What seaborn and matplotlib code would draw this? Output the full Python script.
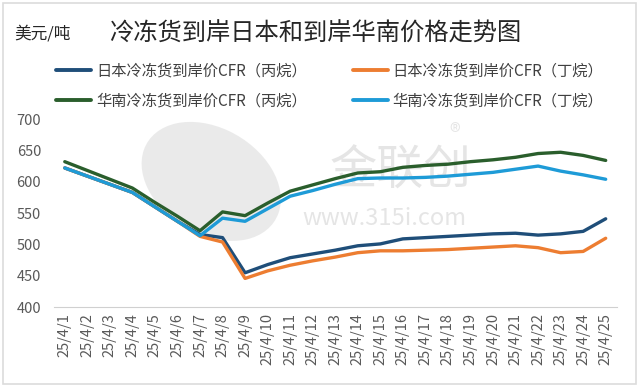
import numpy as np
import pandas as pd
import matplotlib
matplotlib.use("Agg")
import matplotlib.pyplot as plt
from matplotlib.lines import Line2D
from matplotlib.patches import Ellipse
import seaborn as sns

dates = ["25/4/%d" % d for d in range(1, 26)]

jp_propane = [622, 609, 596, 583, 560, 537, 516, 511, 455, 468, 479, 485, 491, 498, 501,
              509, 511, 513, 515, 517, 518, 515, 517, 521, 541]
jp_butane = [622, 609, 596, 583, 560, 537, 513, 504, 446, 458, 467, 474, 480, 487, 490,
             490, 491, 492, 494, 496, 498, 495, 487, 489, 510]
sc_propane = [632, 618, 604, 590, 567, 545, 522, 552, 546, 566, 585, 595, 605, 614, 616,
              623, 626, 628, 632, 635, 639, 645, 647, 642, 634]
sc_butane = [622, 609, 596, 583, 560, 537, 514, 542, 537, 557, 577, 586, 596, 605, 606,
             606, 607, 609, 612, 615, 620, 625, 617, 611, 604]

series_names = ["日本冷冻货到岸价CFR（丙烷）", "日本冷冻货到岸价CFR（丁烷）",
                "华南冷冻货到岸价CFR（丙烷）", "华南冷冻货到岸价CFR（丁烷）"]
colors = ["#1f4e79", "#ed7d31", "#2a5e2c", "#1e9bd7"]

rows = []
for name, vals in zip(series_names, [jp_propane, jp_butane, sc_propane, sc_butane]):
    for i, v in enumerate(vals):
        rows.append({"idx": i, "date": dates[i], "value": v, "series": name})
df = pd.DataFrame(rows)

sns.set_theme(style="white")
plt.rcParams['font.family'] = ['Noto Sans CJK SC', 'DejaVu Sans']

fig = plt.figure(figsize=(6.4, 3.86), dpi=100)
ax = fig.add_axes([0.0836, 0.2039, 0.964 - 0.0836, 0.6917 - 0.2039])
ax.set_zorder(2)

# faint watermark (behind the axes)
fig.patches.append(Ellipse((0.33, 0.53), 0.2, 0.32, angle=20, transform=fig.transFigure,
                           facecolor="#e2e2e2", edgecolor="none", alpha=0.7, zorder=0))
fig.text(0.625, 0.555, "金联创", fontsize=34, color="#d4d4d4", alpha=0.6,
         ha="center", va="center", zorder=0)
fig.text(0.71, 0.655, "®", fontsize=16, color="#d4d4d4", alpha=0.6,
         ha="center", va="center", zorder=0)
fig.text(0.6, 0.435, "www.315i.com", fontsize=17, color="#d4d4d4", alpha=0.6,
         ha="center", va="center", zorder=0)

sns.lineplot(data=df, x="idx", y="value", hue="series", hue_order=series_names,
             palette=colors, linewidth=2.4, ax=ax, legend=False, sort=False)

ax.set_xlim(-0.5, len(dates) - 0.5)
ax.set_ylim(400, 700)
ax.set_yticks([400, 450, 500, 550, 600, 650, 700])
ax.set_xticks(range(len(dates)))
ax.set_xticklabels(dates, rotation=90)
ax.set_xticks(np.arange(-0.5, len(dates), 1.0), minor=True)
ax.tick_params(axis="x", which="major", length=0, labelsize=10.5, colors="#595959", pad=4)
ax.tick_params(axis="x", which="minor", length=4, color="#d0d0d0", width=0.8)
ax.tick_params(axis="y", length=0, labelsize=10.5, colors="#595959", pad=9)
ax.set_xlabel("")
ax.set_ylabel("")
ax.patch.set_alpha(0)
for s in ["top", "right", "left"]:
    ax.spines[s].set_visible(False)
ax.spines["bottom"].set_color("#d0d0d0")
ax.spines["bottom"].set_linewidth(0.8)

# titles
fig.text(0.022, 0.913, "美元/吨", fontsize=12, color="#262626", va="center", ha="left")
fig.text(0.17, 0.913, "冷冻货到岸日本和到岸华南价格走势图", fontsize=17.5, color="#262626",
         va="center", ha="left")

# legend (row-wise order)
order = [0, 2, 1, 3]
handles = [Line2D([0], [0], color=colors[i], lw=2.8) for i in order]
labels = [series_names[i] for i in order]
leg = fig.legend(handles, labels, ncol=2, loc="upper left",
                 bbox_to_anchor=(0.088, 0.838), frameon=False, fontsize=11,
                 handlelength=2.3, handletextpad=0.3, columnspacing=3.0,
                 labelspacing=0.85, borderpad=0, borderaxespad=0)
for t in leg.get_texts():
    t.set_color("#404040")

# frame border
fig.patches.append(plt.Rectangle((0.004, 0.006), 0.99, 0.985, transform=fig.transFigure,
                                 fill=False, edgecolor="#dcdcdc", linewidth=1.2))

fig.savefig("out.png", dpi=100)
